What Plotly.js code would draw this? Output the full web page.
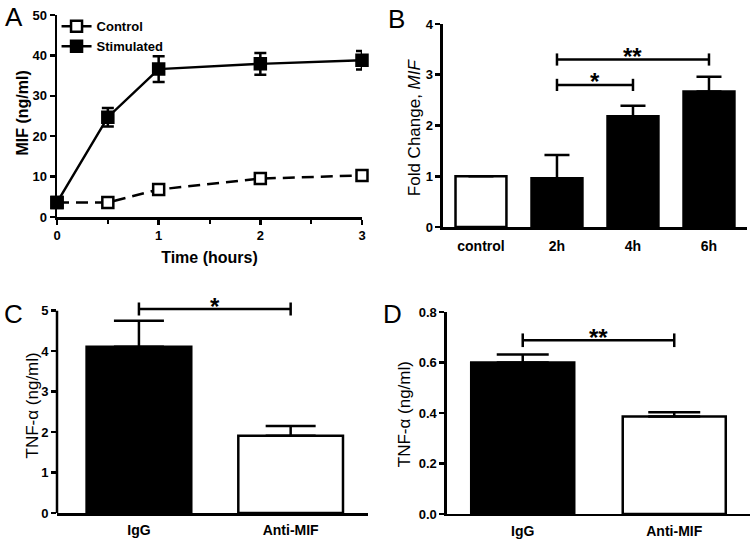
<!DOCTYPE html>
<html>
<head>
<meta charset="utf-8">
<script src="https://cdn.plot.ly/plotly-3.0.1.min.js"></script>
<style>html,body{margin:0;padding:0;background:#fff;}#chart{width:754px;height:539px;}</style>
</head>
<body>
<div id="chart"></div>
<script>
// ---- Panel A data ----
const timeA = [0, 0.5, 1, 2, 3];
const controlA = [3.6, 3.6, 6.8, 9.5, 10.3];
const controlErrA = [0.3, 0.3, 0.6, 1.3, 0.8];
const stimA = [3.6, 24.7, 36.6, 37.9, 38.8];
const stimErrA = [0.3, 2.3, 3.2, 2.7, 2.3];

// ---- Panel B data ----
const catsB = ['control', '2h', '4h', '6h'];
const foldB = [1.0, 0.96, 2.18, 2.67];
const foldErrB = [null, 0.46, 0.21, 0.29];
const barColorsB = ['white', 'black', 'black', 'black'];
const sigFromB = ['2h', '2h'];
const sigToB = ['6h', '4h'];
const sigYB = [3.3, 2.8];
const sigLabelB = ['**', '*'];

// ---- Panel C data ----
const catsC = ['IgG', 'Anti-MIF'];
const tnfC = [4.11, 1.91];
const tnfErrC = [0.64, 0.24];
const sigYC = [5.04];
const sigLabelC = ['*'];

// ---- Panel D data ----
const catsD = ['IgG', 'Anti-MIF'];
const tnfD = [0.60, 0.386];
const tnfErrD = [0.032, 0.017];
const sigYD = [0.688];
const sigLabelD = ['**'];

const barColorsCD = ['black', 'white'];

// ---- Axis titles ----
const yTitles = ['MIF (ng/ml)', 'Fold Change, <i>MIF</i>', 'TNF-α (ng/ml)', 'TNF-α (ng/ml)'];

const FONT = 'Liberation Sans, Arial, sans-serif';
const LW = 2.5;

function baseAxis(extra) {
  return Object.assign({
    showline: true, linecolor: 'black', linewidth: LW,
    ticks: 'outside', ticklen: 5, tickwidth: LW, tickcolor: 'black',
    showgrid: false, zeroline: false, fixedrange: true,
    tickfont: {family: FONT, size: 13, color: 'black', weight: 'bold'}
  }, extra);
}

const traces = [];

// Panel A
traces.push({
  x: timeA, y: controlA, name: 'Control', type: 'scatter', mode: 'lines+markers',
  xaxis: 'x', yaxis: 'y', cliponaxis: false,
  line: {color: 'black', width: 2.5, dash: '12px,7px'},
  marker: {symbol: 'square', size: 11, color: 'white', line: {color: 'black', width: 2.5}},
  error_y: {type: 'data', array: controlErrA, visible: true, color: 'black', thickness: 2.5, width: 6}
});
traces.push({
  x: timeA, y: stimA, name: 'Stimulated', type: 'scatter', mode: 'lines+markers',
  xaxis: 'x', yaxis: 'y', cliponaxis: false,
  line: {color: 'black', width: 2.5},
  marker: {symbol: 'square', size: 11, color: 'black', line: {color: 'black', width: 2.5}},
  error_y: {type: 'data', array: stimErrA, visible: true, color: 'black', thickness: 2.5, width: 6}
});

function barTrace(cats, vals, errs, colors, xa, ya, width, capw) {
  return {
    type: 'bar', x: cats, y: vals, xaxis: xa, yaxis: ya, showlegend: false, width: width,
    marker: {color: colors, line: {color: 'black', width: 2.5}},
    error_y: {type: 'data', symmetric: false, array: errs, arrayminus: errs.map(() => 0),
              visible: true, color: 'black', thickness: 2.5, width: capw}
  };
}
traces.push(barTrace(catsB, foldB, foldErrB, barColorsB, 'x2', 'y2', 0.67, 12.5));
traces.push(barTrace(catsC, tnfC, tnfErrC, barColorsCD, 'x3', 'y3', 0.69, 25));
traces.push(barTrace(catsD, tnfD, tnfErrD, barColorsCD, 'x4', 'y4', 0.68, 26));

const shapes = [];
const annotations = [];

function bracket(xa, ya, cats, from, to, y, tick, label, yshift) {
  const ln = {color: 'black', width: 2.5};
  shapes.push({type: 'line', xref: xa, yref: ya, x0: from, x1: to, y0: y, y1: y, line: ln});
  shapes.push({type: 'line', xref: xa, yref: ya, x0: from, x1: from, y0: y - tick, y1: y + tick, line: ln});
  shapes.push({type: 'line', xref: xa, yref: ya, x0: to, x1: to, y0: y - tick, y1: y + tick, line: ln});
  const mid = (cats.indexOf(from) + cats.indexOf(to)) / 2;
  annotations.push({xref: xa, yref: ya, x: mid, y: y, text: label, showarrow: false,
    yanchor: 'middle', yshift: yshift, font: {family: FONT, size: 24, color: 'black', weight: 'bold'}});
}
for (let i = 0; i < sigYB.length; i++) bracket('x2', 'y2', catsB, sigFromB[i], sigToB[i], sigYB[i], 0.12, sigLabelB[i], 3);
bracket('x3', 'y3', catsC, catsC[0], catsC[1], sigYC[0], 0.16, sigLabelC[0], 3);
bracket('x4', 'y4', catsD, catsD[0], catsD[1], sigYD[0], 0.027, sigLabelD[0], 3);

// Panel C y-axis line stops at the top tick (5)
shapes.push({type: 'line', xref: 'x3 domain', yref: 'y3', x0: 0, x1: 0, y0: 0, y1: 5,
  line: {color: 'black', width: LW}});

// Panel letters
const letters = [['A', 0.004, 1.0], ['B', 0.512, 0.996], ['C', 0.002, 0.449], ['D', 0.505, 0.449]];
letters.forEach(l => annotations.push({xref: 'paper', yref: 'paper', x: l[1], y: l[2], text: l[0],
  showarrow: false, xanchor: 'left', yanchor: 'top', font: {family: FONT, size: 26, color: 'black'}}));

// Y-axis titles (rotated text placed beside each axis)
const titleBold = {family: FONT, size: 16, color: 'black', weight: 'bold'};
const titleReg = {family: FONT, size: 17, color: 'black'};
const yTitlePos = [[0.0292, 0.7894], [0.5500, 0.7635], [0.0430, 0.2486], [0.5375, 0.2320]];
const yTitleFonts = [titleBold, titleReg, titleReg, titleReg];
yTitles.forEach((t, i) => annotations.push({xref: 'paper', yref: 'paper', x: yTitlePos[i][0], y: yTitlePos[i][1],
  text: t, textangle: -90, showarrow: false, xanchor: 'center', yanchor: 'middle', font: yTitleFonts[i]}));

const catFont = {family: FONT, size: 14, color: 'black', weight: 'bold'};

const layout = {
  width: 754, height: 539,
  margin: {l: 0, r: 0, t: 0, b: 0},
  paper_bgcolor: 'white', plot_bgcolor: 'white',
  showlegend: true,
  legend: {x: 0.075, y: 0.979, xanchor: 'left', yanchor: 'top', bgcolor: 'rgba(0,0,0,0)',
           font: {family: FONT, size: 13, color: 'black', weight: 'bold'}, tracegroupgap: 0, itemwidth: 30},
  xaxis: baseAxis({domain: [0.0756, 0.4801], anchor: 'y', range: [0, 3], tickvals: [0, 1, 2, 3],
    minor: {tickvals: [0.5, 1.5, 2.5], ticklen: 4, tickwidth: 2, tickcolor: 'black', ticks: 'outside'},
    title: {text: 'Time (hours)', font: titleBold, standoff: 10}, layer: 'below traces'}),
  yaxis: baseAxis({domain: [0.5974, 0.9722], anchor: 'x', range: [0, 50], dtick: 10, layer: 'below traces'}),
  xaxis2: baseAxis({domain: [0.5875, 0.9907], anchor: 'y2', range: [-0.5, 3.5], ticks: '',
    ticklabelstandoff: 5, tickfont: catFont}),
  yaxis2: baseAxis({domain: [0.5788, 0.9555], anchor: 'x2', range: [0, 4], dtick: 1}),
  xaxis3: baseAxis({domain: [0.0756, 0.4881], anchor: 'y3', range: [-0.54, 1.51], ticks: '',
    ticklabelstandoff: 3, tickfont: catFont}),
  yaxis3: baseAxis({domain: [0.0482, 0.4462], anchor: 'x3', range: [0, 5.3], tickvals: [0, 1, 2, 3, 4, 5],
    showline: false}),
  xaxis4: baseAxis({domain: [0.5928, 0.9947], anchor: 'y4', range: [-0.5, 1.5], ticks: '',
    ticklabelstandoff: 3, tickfont: catFont}),
  yaxis4: baseAxis({domain: [0.0464, 0.4212], anchor: 'x4', range: [0, 0.8], dtick: 0.2, tickformat: '.1f'}),
  shapes: shapes,
  annotations: annotations
};

Plotly.newPlot('chart', traces, layout, {staticPlot: true, displayModeBar: false});
</script>
</body>
</html>
